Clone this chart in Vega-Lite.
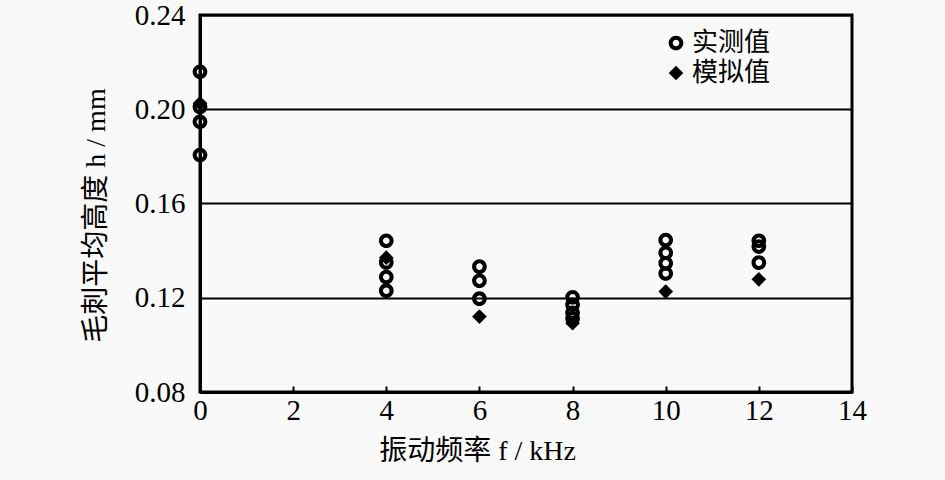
{
  "$schema": "https://vega.github.io/schema/vega-lite/v6.json",
  "autosize": "none",
  "width": 652,
  "height": 377,
  "padding": {"left": 200, "top": 15, "right": 93, "bottom": 88},
  "background": "#f9f9f9",
  "config": {
    "font": "Liberation Serif, Noto Sans CJK SC",
    "view": {"stroke": "black", "strokeWidth": 3},
    "axis": {"domainColor": "black", "domainWidth": 3, "labelColor": "black", "titleColor": "black", "labelFont": "Liberation Serif", "labelFontSize": 29, "titleFont": "Liberation Serif, Noto Sans CJK SC", "titleFontSize": 28, "titleFontWeight": "normal", "labelFlush": false, "labelBound": false}
  },
  "data": {
    "values": [
      {"f": 0, "h": 0.2159, "type": "实测值"},
      {"f": 0, "h": 0.2010, "type": "实测值"},
      {"f": 0, "h": 0.1947, "type": "实测值"},
      {"f": 0, "h": 0.1806, "type": "实测值"},
      {"f": 4, "h": 0.1442, "type": "实测值"},
      {"f": 4, "h": 0.1350, "type": "实测值"},
      {"f": 4, "h": 0.1288, "type": "实测值"},
      {"f": 4, "h": 0.1230, "type": "实测值"},
      {"f": 6, "h": 0.1332, "type": "实测值"},
      {"f": 6, "h": 0.1272, "type": "实测值"},
      {"f": 6, "h": 0.1196, "type": "实测值"},
      {"f": 8, "h": 0.1202, "type": "实测值"},
      {"f": 8, "h": 0.1170, "type": "实测值"},
      {"f": 8, "h": 0.1136, "type": "实测值"},
      {"f": 8, "h": 0.1112, "type": "实测值"},
      {"f": 10, "h": 0.1445, "type": "实测值"},
      {"f": 10, "h": 0.1391, "type": "实测值"},
      {"f": 10, "h": 0.1346, "type": "实测值"},
      {"f": 10, "h": 0.1303, "type": "实测值"},
      {"f": 12, "h": 0.1442, "type": "实测值"},
      {"f": 12, "h": 0.1417, "type": "实测值"},
      {"f": 12, "h": 0.1349, "type": "实测值"},
      {"f": 0, "h": 0.2025, "type": "模拟值"},
      {"f": 4, "h": 0.1370, "type": "模拟值"},
      {"f": 6, "h": 0.1120, "type": "模拟值"},
      {"f": 8, "h": 0.1092, "type": "模拟值"},
      {"f": 10, "h": 0.1226, "type": "模拟值"},
      {"f": 12, "h": 0.1278, "type": "模拟值"}
    ]
  },
  "mark": {"type": "point", "filled": true, "color": "black", "fill": "black", "strokeWidth": 0, "size": 215, "opacity": 1},
  "encoding": {
    "x": {
      "field": "f", "type": "quantitative",
      "scale": {"domain": [0, 14], "nice": false},
      "axis": {"title": "振动频率 f / kHz", "values": [0, 2, 4, 6, 8, 10, 12, 14], "grid": false, "tickColor": "black", "tickWidth": 2, "tickSize": -6, "labelPadding": 10, "titlePadding": 12, "titleX": 277, "titleAlign": "center"}
    },
    "y": {
      "field": "h", "type": "quantitative",
      "scale": {"domain": [0.08, 0.24], "nice": false, "zero": false},
      "axis": {"title": "毛刺平均高度 h / mm", "values": [0.08, 0.12, 0.16, 0.2, 0.24], "format": ".2f", "grid": true, "gridColor": "black", "gridWidth": 2, "gridOpacity": 1, "ticks": false, "labelPadding": 15, "titlePadding": 24, "titleY": 200}
    },
    "shape": {
      "field": "type", "type": "nominal",
      "scale": {"domain": ["实测值", "模拟值"], "range": ["M-1,0A1,1,0,1,0,1,0A1,1,0,1,0,-1,0Z M-0.45,0A0.45,0.45,0,1,1,0.45,0A0.45,0.45,0,1,1,-0.45,0Z", "diamond"]},
      "legend": {
        "title": null, "orient": "none", "legendX": 463, "legendY": 15,
        "labelFont": "Noto Sans CJK SC", "labelFontSize": 26, "labelColor": "black",
        "symbolSize": 215, "symbolFillColor": "black", "symbolStrokeWidth": 0, "rowPadding": 4, "labelOffset": 3
      }
    }
  }
}
